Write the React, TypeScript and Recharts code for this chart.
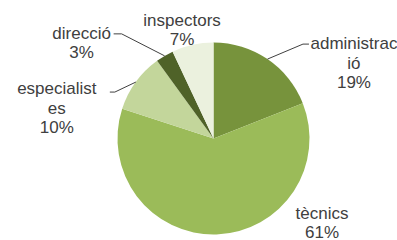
import React from 'react';
import { PieChart, Pie, Cell } from 'recharts';

const categories = ['administració', 'tècnics', 'especialistes', 'direcció', 'inspectors'];
const shares = [19, 61, 10, 3, 7];
const colors = ['#77933C', '#9BBB59', '#C3D69B', '#4F6228', '#EBF1DE'];

const data = categories.map((name, i) => ({ name, value: shares[i] }));

// label text centre (first line) relative to the slice's outer edge point,
// plus optional leader line elbow/end relative to the same point
const labelLayout = [
  { dx: 86.5, dy: -16, elbow: [35.5, -15], end: [41.5, -15] },
  { dx: 105.5, dy: -21.5, elbow: null, end: null },
  { dx: -79, dy: 6, elbow: [-21, 10], end: [-26, 10] },
  { dx: -83, dy: -23, elbow: [-43, -22], end: [-51, -22] },
  { dx: -10.5, dy: -25, elbow: null, end: null },
];

const RADIAN = Math.PI / 180;
const WRAP = 11;
const LINE_H = 19.5;

const wrap = (s: string) => {
  const out: string[] = [];
  for (let i = 0; i < s.length; i += WRAP) out.push(s.slice(i, i + WRAP));
  return out;
};

const renderLabel = (props: any) => {
  const { cx, cy, midAngle, outerRadius, index, name, percent } = props;
  const ex = cx + outerRadius * Math.cos(-midAngle * RADIAN);
  const ey = cy + outerRadius * Math.sin(-midAngle * RADIAN);
  const lay = labelLayout[index];
  const lines = [...wrap(name), `${Math.round(percent * 100)}%`];
  return (
    <g>
      {lay.elbow && (
        <polyline
          points={`${ex},${ey} ${ex + lay.elbow[0]},${ey + lay.elbow[1]} ${ex + lay.end[0]},${ey + lay.end[1]}`}
          fill="none"
          stroke="#404040"
          strokeWidth={1}
        />
      )}
      <text
        x={ex + lay.dx}
        y={ey + lay.dy}
        textAnchor="middle"
        dominantBaseline="central"
        fill="#404040"
        fontSize={17}
        fontFamily="'Liberation Sans', Arial, sans-serif"
      >
        {lines.map((l, i) => (
          <tspan key={i} x={ex + lay.dx} y={ey + lay.dy + i * LINE_H}>
            {l}
          </tspan>
        ))}
      </text>
    </g>
  );
};

export default function App() {
  return (
    <div style={{ width: 397, height: 240, background: '#fff' }}>
      <style>{'body{margin:0}'}</style>
      <PieChart width={397} height={240} margin={{ top: 0, right: 0, bottom: 0, left: 0 }}>
        <Pie
          data={data}
          dataKey="value"
          nameKey="name"
          cx={213.5}
          cy={138.5}
          outerRadius={96}
          startAngle={90}
          endAngle={-270}
          stroke="none"
          label={renderLabel}
          labelLine={false}
          isAnimationActive={false}
        >
          {data.map((d, i) => (
            <Cell key={d.name} fill={colors[i]} />
          ))}
        </Pie>
      </PieChart>
    </div>
  );
}
